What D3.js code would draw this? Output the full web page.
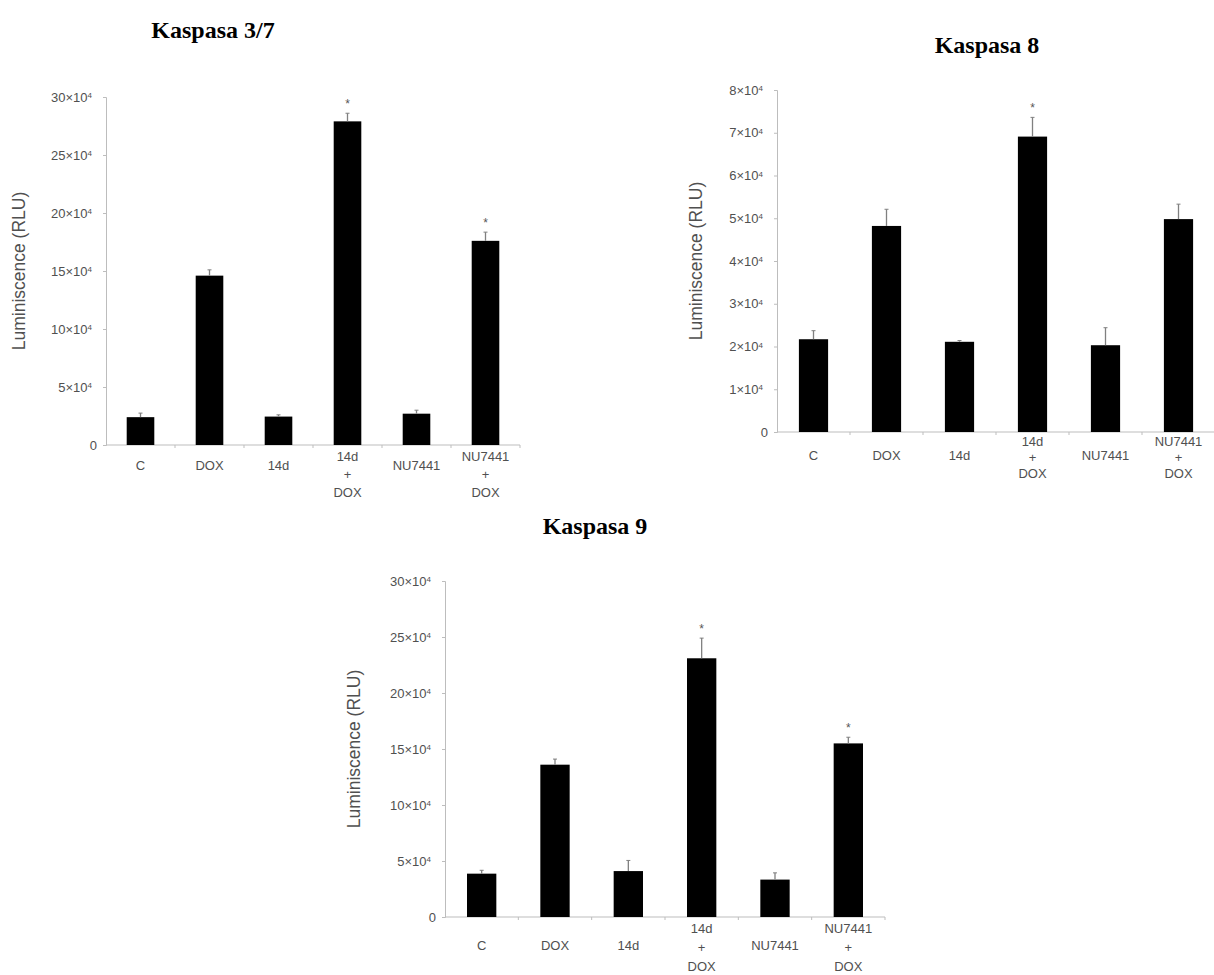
<!DOCTYPE html>
<html>
<head>
<meta charset="utf-8">
<script src="https://cdn.jsdelivr.net/npm/d3@7/dist/d3.min.js"></script>
<style>
  html, body { margin: 0; padding: 0; background: #fff; }
  svg { display: block; }
</style>
</head>
<body>
<svg id="fig" width="1214" height="975"></svg>
<script>
// Treatment groups (multi-line labels split on "|")
const categories = ["C", "DOX", "14d", "14d|+|DOX", "NU7441", "NU7441|+|DOX"];

// Luminescence means, in units of 10^4 RLU
const casp37Values = [2.4, 14.6, 2.45, 27.9, 2.7, 17.6];
const casp37Errors = [0.35, 0.5, 0.15, 0.7, 0.3, 0.75];
const casp37Stars  = [false, false, false, true, false, true];

const casp8Values = [2.17, 4.82, 2.11, 6.91, 2.03, 4.98];
const casp8Errors = [0.2, 0.39, 0.03, 0.45, 0.41, 0.35];
const casp8Stars  = [false, false, false, true, false, false];

const casp9Values = [3.87, 13.6, 4.1, 23.1, 3.34, 15.5];
const casp9Errors = [0.3, 0.5, 0.95, 1.8, 0.6, 0.55];
const casp9Stars  = [false, false, false, true, false, true];

// Y tick values (×10^4)
const ticks37 = [0, 5, 10, 15, 20, 25, 30];
const ticks8  = [0, 1, 2, 3, 4, 5, 6, 7, 8];
const ticks9  = [0, 5, 10, 15, 20, 25, 30];

const svg = d3.select("#fig");
const axisColor = "#bdbdbd";
const textColor = "#505050";
const sans = "'Liberation Sans', Arial, sans-serif";

function drawPanel(cfg) {
  const g = svg.append("g");
  const x = d3.scaleBand().domain(categories.map((c, i) => i))
    .range([cfg.x0, cfg.x1]).paddingInner(0.6).paddingOuter(0.3);
  const y = d3.scaleLinear().domain([0, cfg.max]).range([cfg.y0, cfg.yTop]);

  // title
  svg.append("text")
    .attr("x", cfg.titleX).attr("y", cfg.titleY)
    .attr("text-anchor", "middle")
    .style("font-family", "'Liberation Serif', 'Times New Roman', serif")
    .style("font-weight", "bold").style("font-size", "24px")
    .attr("fill", "#000")
    .text(cfg.title);

  // y axis
  const yAxis = d3.axisLeft(y).tickValues(cfg.ticks).tickSize(3).tickPadding(6)
    .tickFormat(d => d === 0 ? "0" : d + "×10");
  const ya = g.append("g").attr("transform", `translate(${cfg.x0},0)`).call(yAxis);
  ya.select(".domain").attr("stroke", axisColor);
  ya.selectAll(".tick line").attr("stroke", axisColor);
  ya.selectAll(".tick text")
    .attr("fill", textColor).style("font-family", sans).style("font-size", "13px")
    .attr("dx", d => d === 0 ? 0 : -5)
    .each(function (d) {
      if (d === 0) return;
      d3.select(this).append("tspan")
        .attr("dy", "-0.45em").style("font-size", "8px").text("4");
    });

  // x axis with ticks at category boundaries
  g.append("line")
    .attr("x1", cfg.x0).attr("x2", cfg.x1)
    .attr("y1", cfg.y0).attr("y2", cfg.y0)
    .attr("stroke", axisColor);
  const step = (cfg.x1 - cfg.x0) / categories.length;
  const bounds = d3.range(1, categories.length + 1).map(i => cfg.x0 + i * step);
  g.selectAll("line.xt").data(bounds).join("line").attr("class", "xt")
    .attr("x1", d => d).attr("x2", d => d)
    .attr("y1", cfg.y0).attr("y2", cfg.y0 + 3)
    .attr("stroke", axisColor);

  // category labels
  categories.forEach((c, i) => {
    const lines = c.split("|");
    const cx = x(i) + x.bandwidth() / 2;
    const t = g.append("text")
      .attr("x", cx).attr("text-anchor", "middle")
      .attr("fill", textColor).style("font-family", sans).style("font-size", "13px");
    const start = lines.length === 1 ? cfg.y0 + cfg.singleY : cfg.y0 + cfg.multiY;
    lines.forEach((ln, k) => {
      t.append("tspan").attr("x", cx).attr("y", start + k * cfg.lineGap)
        .attr("dominant-baseline", "middle").text(ln);
    });
  });

  // bars
  g.selectAll("rect.bar").data(cfg.values).join("rect").attr("class", "bar")
    .attr("x", (d, i) => x(i)).attr("width", x.bandwidth())
    .attr("y", d => y(d)).attr("height", d => cfg.y0 - y(d))
    .attr("fill", "#000");

  // error bars (upper half)
  const cap = 2;
  cfg.values.forEach((v, i) => {
    const cx = x(i) + x.bandwidth() / 2;
    const top = y(v + cfg.errors[i]);
    g.append("line").attr("x1", cx).attr("x2", cx)
      .attr("y1", y(v)).attr("y2", top).attr("stroke", "#808080").attr("stroke-width", 1.3);
    g.append("line").attr("x1", cx - cap).attr("x2", cx + cap)
      .attr("y1", top).attr("y2", top).attr("stroke", "#808080").attr("stroke-width", 1);
    if (cfg.stars[i]) {
      g.append("text").attr("x", cx).attr("y", top - 5)
        .attr("text-anchor", "middle").attr("fill", "#555")
        .style("font-family", sans).style("font-size", "12px").text("*");
    }
  });

  // y-axis title
  const ly = (cfg.y0 + cfg.yTop) / 2;
  g.append("text")
    .attr("transform", `translate(${cfg.labelX},${ly}) rotate(-90)`)
    .attr("text-anchor", "middle").attr("dominant-baseline", "middle")
    .attr("fill", textColor).style("font-family", sans).style("font-size", "17.5px")
    .text("Luminiscence (RLU)");
}

drawPanel({
  title: "Kaspasa 3/7", titleX: 213, titleY: 38,
  x0: 106, x1: 520, y0: 445, yTop: 97, max: 30, ticks: ticks37,
  values: casp37Values, errors: casp37Errors, stars: casp37Stars,
  labelX: 20, singleY: 22, multiY: 13, lineGap: 18
});

drawPanel({
  title: "Kaspasa 8", titleX: 987, titleY: 53,
  x0: 777, x1: 1215, y0: 432, yTop: 90, max: 8, ticks: ticks8,
  values: casp8Values, errors: casp8Errors, stars: casp8Stars,
  labelX: 697, singleY: 25, multiY: 11, lineGap: 16
});

drawPanel({
  title: "Kaspasa 9", titleX: 595, titleY: 534,
  x0: 445, x1: 885, y0: 917, yTop: 581, max: 30, ticks: ticks9,
  values: casp9Values, errors: casp9Errors, stars: casp9Stars,
  labelX: 355, singleY: 30, multiY: 13, lineGap: 19
});
</script>
</body>
</html>
